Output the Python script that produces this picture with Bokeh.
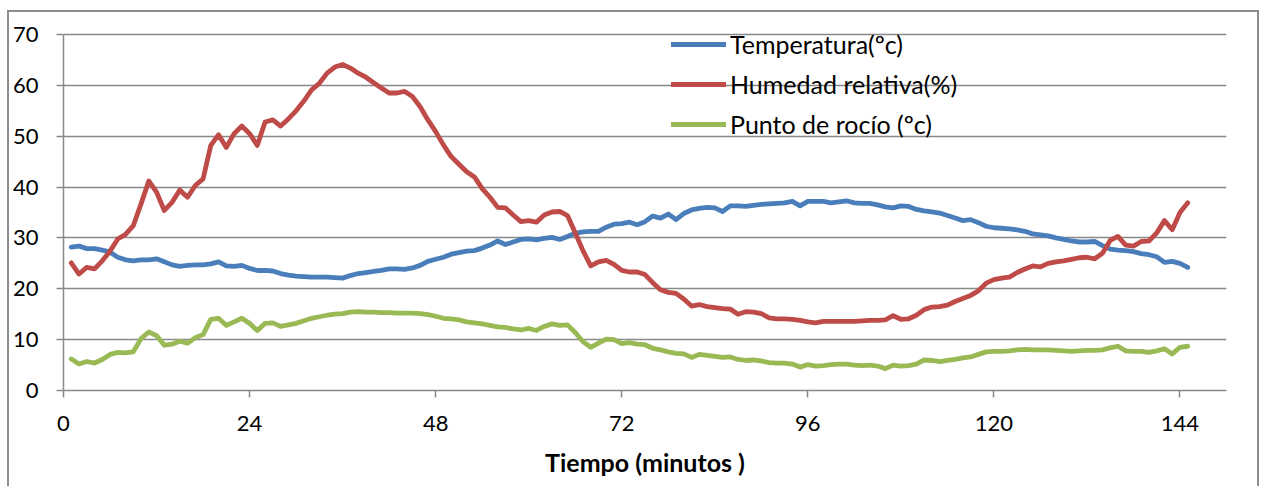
from bokeh.plotting import figure
from bokeh.models import Range1d, FixedTicker, Legend, LegendItem
from bokeh.embed import file_html
from bokeh.resources import INLINE

minutes = list(range(1, 146))

temperatura = [28.2, 28.4, 27.9, 27.9, 27.6, 27.2, 26.2, 25.7, 25.5, 25.7,
               25.7, 25.9, 25.3, 24.7, 24.4, 24.6, 24.7, 24.7, 24.9, 25.3,
               24.5, 24.4, 24.6, 24.0, 23.6, 23.6, 23.5, 23.0, 22.7, 22.5,
               22.4, 22.3, 22.3, 22.3, 22.2, 22.1, 22.6, 23.0, 23.2, 23.4,
               23.6, 23.9, 23.9, 23.8, 24.1, 24.6, 25.4, 25.8, 26.2, 26.8,
               27.1, 27.4, 27.5, 28.0, 28.6, 29.4, 28.7, 29.2, 29.7, 29.8,
               29.6, 29.9, 30.1, 29.7, 30.3, 30.9, 31.2, 31.3, 31.3, 32.1,
               32.7, 32.8, 33.1, 32.6, 33.2, 34.3, 33.9, 34.7, 33.6, 34.8,
               35.5, 35.8, 36.0, 35.9, 35.2, 36.3, 36.3, 36.2, 36.4, 36.6,
               36.7, 36.8, 36.9, 37.2, 36.3, 37.2, 37.2, 37.2, 36.9, 37.1,
               37.3, 36.9, 36.8, 36.8, 36.5, 36.1, 35.9, 36.3, 36.2, 35.6,
               35.3, 35.1, 34.9, 34.4, 33.9, 33.4, 33.6, 33.0, 32.3, 32.0,
               31.9, 31.8, 31.6, 31.3, 30.8, 30.6, 30.4, 30.0, 29.7, 29.4,
               29.2, 29.2, 29.3, 28.5, 27.8, 27.6, 27.5, 27.3, 26.9, 26.7,
               26.3, 25.2, 25.4, 25.0, 24.2]

humedad = [25.1, 22.9, 24.2, 23.9, 25.5, 27.4, 29.8, 30.7, 32.4, 36.7,
           41.2, 39.0, 35.4, 37.0, 39.4, 38.0, 40.3, 41.6, 48.2, 50.3,
           47.8, 50.5, 52.0, 50.5, 48.2, 52.8, 53.2, 52.0, 53.4, 55.0,
           56.9, 59.1, 60.4, 62.4, 63.6, 64.1, 63.4, 62.4, 61.6, 60.5,
           59.5, 58.5, 58.5, 58.8, 57.8, 55.8, 53.2, 50.9, 48.3, 46.0,
           44.5, 43.0, 42.0, 39.7, 38.0, 36.0, 35.9, 34.5, 33.2, 33.4,
           33.1, 34.5, 35.1, 35.2, 34.4, 31.0, 27.5, 24.5, 25.3, 25.6,
           24.8, 23.6, 23.3, 23.3, 22.8, 21.2, 19.8, 19.3, 19.1, 18.0,
           16.6, 16.9, 16.5, 16.3, 16.1, 16.0, 15.0, 15.5, 15.4, 15.1,
           14.3, 14.1, 14.1, 14.0, 13.8, 13.5, 13.3, 13.6, 13.6, 13.6,
           13.6, 13.6, 13.7, 13.8, 13.8, 13.9, 14.7, 14.0, 14.1, 14.8,
           15.9, 16.4, 16.5, 16.8, 17.5, 18.1, 18.7, 19.6, 21.1, 21.8,
           22.1, 22.3, 23.2, 23.9, 24.5, 24.3, 25.0, 25.3, 25.5, 25.8,
           26.1, 26.2, 25.9, 27.0, 29.5, 30.3, 28.6, 28.4, 29.3, 29.4,
           31.0, 33.4, 31.6, 35.0, 36.9]

rocio = [6.2, 5.2, 5.7, 5.4, 6.1, 7.1, 7.5, 7.4, 7.6, 10.2,
         11.5, 10.8, 8.9, 9.1, 9.7, 9.3, 10.4, 11.0, 14.0, 14.2,
         12.8, 13.5, 14.2, 13.2, 11.8, 13.2, 13.3, 12.6, 12.9, 13.2,
         13.7, 14.2, 14.5, 14.8, 15.0, 15.1, 15.4, 15.5, 15.4, 15.4,
         15.3, 15.3, 15.2, 15.2, 15.2, 15.1, 14.9, 14.6, 14.2, 14.1,
         13.9, 13.5, 13.3, 13.1, 12.8, 12.5, 12.4, 12.1, 11.9, 12.2,
         11.8, 12.6, 13.1, 12.8, 12.9, 11.4, 9.6, 8.5, 9.3, 10.1,
         10.0, 9.2, 9.4, 9.1, 9.0, 8.3, 8.0, 7.6, 7.3, 7.2,
         6.5, 7.1, 6.9, 6.7, 6.5, 6.6, 6.1, 5.9, 6.0, 5.8,
         5.5, 5.4, 5.4, 5.2, 4.6, 5.1, 4.8, 4.9, 5.1, 5.2,
         5.2, 5.0, 4.9, 5.0, 4.8, 4.3, 5.0, 4.8, 4.9, 5.2,
         6.0, 5.9, 5.7, 5.9, 6.1, 6.4, 6.6, 7.1, 7.6, 7.7,
         7.7, 7.8, 8.0, 8.1, 8.0, 8.0, 8.0, 7.9, 7.8, 7.7,
         7.8, 7.9, 7.9, 8.0, 8.4, 8.7, 7.8, 7.7, 7.7, 7.5,
         7.8, 8.2, 7.2, 8.5, 8.7]

series_names = ["Temperatura(ºc)", "Humedad relativa(%)", "Punto de rocío (ºc)"]
x_ticks = [0, 24, 48, 72, 96, 120, 144]
y_ticks = [0, 10, 20, 30, 40, 50, 60, 70]
x_title = "Tiempo (minutos )"

FONT = "Lato"
GRID = "#898989"

# frame extends a little above the 70 gridline so the legend text stays inside it
y_top = 70 * 366 / 356

p = figure(width=1252, height=476, x_range=Range1d(0, 150), y_range=Range1d(0, y_top),
           output_backend="svg", toolbar_location=None,
           min_border_left=53, min_border_right=35, min_border_top=12, min_border_bottom=98)
p.styles = {"margin-left": "7px", "margin-top": "10px",
            "border-left": "2px solid #8c8c8c", "border-top": "2px solid #8c8c8c",
            "border-right": "2px solid #8c8c8c"}
p.outline_line_color = None
p.background_fill_color = "white"
p.border_fill_color = "white"

p.xgrid.grid_line_color = None
p.ygrid.grid_line_color = GRID
p.ygrid.grid_line_width = 1.5
p.ygrid.ticker = FixedTicker(ticks=y_ticks)

for ax in (p.xaxis[0], p.yaxis[0]):
    ax.axis_line_color = GRID
    ax.axis_line_width = 1.5
    ax.major_tick_line_color = GRID
    ax.major_tick_line_width = 1.5
    ax.major_tick_out = 7
    ax.major_tick_in = 0
    ax.minor_tick_line_color = None
    ax.major_label_text_font = FONT
    ax.major_label_text_font_size = "22px"
    ax.major_label_text_color = "black"

p.yaxis.bounds = (0, 70)
p.xaxis.ticker = FixedTicker(ticks=x_ticks)
p.yaxis.ticker = FixedTicker(ticks=y_ticks)
p.yaxis.major_label_standoff = 18
p.xaxis.major_label_standoff = 18
p.xaxis.axis_label = x_title
p.xaxis.axis_label_text_font = FONT
p.xaxis.axis_label_text_font_style = "bold"
p.xaxis.axis_label_text_font_size = "25px"
p.xaxis.axis_label_text_color = "black"
p.xaxis.axis_label_standoff = 13

colors = ["#4A7EBB", "#BE4B48", "#98B954"]
r_t = p.line(minutes, temperatura, line_color=colors[0], line_width=4.8, line_join="round", line_cap="round")
r_h = p.line(minutes, humedad, line_color=colors[1], line_width=4.8, line_join="round", line_cap="round")
r_r = p.line(minutes, rocio, line_color=colors[2], line_width=4.8, line_join="round", line_cap="round")

legend = Legend(items=[LegendItem(label=series_names[0], renderers=[r_t]),
                       LegendItem(label=series_names[1], renderers=[r_h]),
                       LegendItem(label=series_names[2], renderers=[r_r])],
                location=(608, 251), orientation="vertical",
                glyph_width=55, glyph_height=30, label_height=30, spacing=10,
                padding=0, margin=0, label_standoff=4,
                border_line_color=None, background_fill_alpha=0,
                label_text_font=FONT, label_text_font_size="25px", label_text_color="black")
p.add_layout(legend, "center")

open("out.html", "w").write(file_html(p, INLINE))
